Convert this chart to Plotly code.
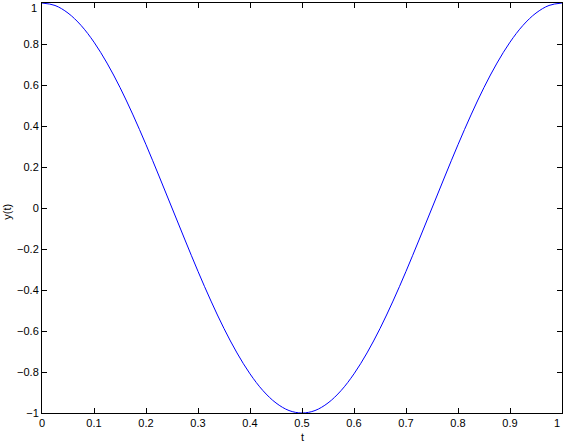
import plotly.graph_objects as go

t = [0.0, 0.025, 0.05, 0.075, 0.1, 0.125, 0.15, 0.175, 0.2, 0.225, 0.25,
     0.275, 0.3, 0.325, 0.35, 0.375, 0.4, 0.425, 0.45, 0.475, 0.5,
     0.525, 0.55, 0.575, 0.6, 0.625, 0.65, 0.675, 0.7, 0.725, 0.75,
     0.775, 0.8, 0.825, 0.85, 0.875, 0.9, 0.925, 0.95, 0.975, 1.0]
y = [1.0, 0.988, 0.951, 0.891, 0.809, 0.707, 0.588, 0.454, 0.309, 0.156, 0.0,
     -0.156, -0.309, -0.454, -0.588, -0.707, -0.809, -0.891, -0.951, -0.988, -1.0,
     -0.988, -0.951, -0.891, -0.809, -0.707, -0.588, -0.454, -0.309, -0.156, 0.0,
     0.156, 0.309, 0.454, 0.588, 0.707, 0.809, 0.891, 0.951, 0.988, 1.0]

x_ticks = [0, 0.1, 0.2, 0.3, 0.4, 0.5, 0.6, 0.7, 0.8, 0.9, 1]
x_tick_labels = ["0", "0.1", "0.2", "0.3", "0.4", "0.5", "0.6", "0.7", "0.8", "0.9", "1"]
y_ticks = [-1, -0.8, -0.6, -0.4, -0.2, 0, 0.2, 0.4, 0.6, 0.8, 1]
y_tick_labels = ["\u22121", "\u22120.8", "\u22120.6", "\u22120.4", "\u22120.2", "0",
                 "0.2", "0.4", "0.6", "0.8", "1"]

FONT = "Liberation Sans, Arial, sans-serif"
tick_font = dict(family=FONT, size=11, color="black")

fig = go.Figure()
fig.add_trace(go.Scatter(x=t, y=y, mode="lines",
                         line=dict(color="#0000ff", width=1, shape="spline", smoothing=1.0)))

axis_common = dict(showline=True, linecolor="black", linewidth=1, mirror="ticks",
                   ticks="inside", ticklen=5, tickcolor="black", tickwidth=1,
                   showgrid=False, zeroline=False, automargin=False,
                   ticklabeloverflow="allow", tickfont=tick_font)

# The last label on each axis would spill past the page edge, so it is drawn
# as an annotation nudged inward (as the reference does).
fig.update_xaxes(range=[0, 1], tickvals=x_ticks,
                 ticktext=x_tick_labels[:-1] + [""], **axis_common)
fig.update_yaxes(range=[-1, 1], tickvals=y_ticks,
                 ticktext=y_tick_labels[:-1] + [""], **axis_common)

fig.add_annotation(text=x_tick_labels[-1], xref="x", yref="paper", x=x_ticks[-1], y=0,
                   xanchor="right", yanchor="top", yshift=-2, showarrow=False,
                   font=tick_font)
fig.add_annotation(text=y_tick_labels[-1], xref="paper", yref="y", x=0, y=y_ticks[-1],
                   xanchor="right", yanchor="top", xshift=-3, yshift=3, showarrow=False,
                   font=tick_font)

fig.add_annotation(text="t", xref="paper", yref="paper", x=0.5, y=-0.0585,
                   xanchor="center", yanchor="middle", showarrow=False,
                   font=dict(family=FONT, size=11, color="black"))
fig.add_annotation(text="y(t)", xref="paper", yref="paper", x=-0.068, y=0.49,
                   xanchor="center", yanchor="middle", showarrow=False, textangle=-90,
                   font=dict(family=FONT, size=11, color="black"))

fig.update_layout(width=564, height=443, margin=dict(l=42, r=2, t=3, b=30, autoexpand=False),
                  paper_bgcolor="white", plot_bgcolor="white", showlegend=False)

fig.write_html("out.html", config={"displayModeBar": False})

with open("out.html", "r", encoding="utf-8") as f:
    html = f.read()
html = html.replace("<head>", "<head><style>html,body{margin:0;padding:0;overflow:hidden;}</style>", 1)
with open("out.html", "w", encoding="utf-8") as f:
    f.write(html)
